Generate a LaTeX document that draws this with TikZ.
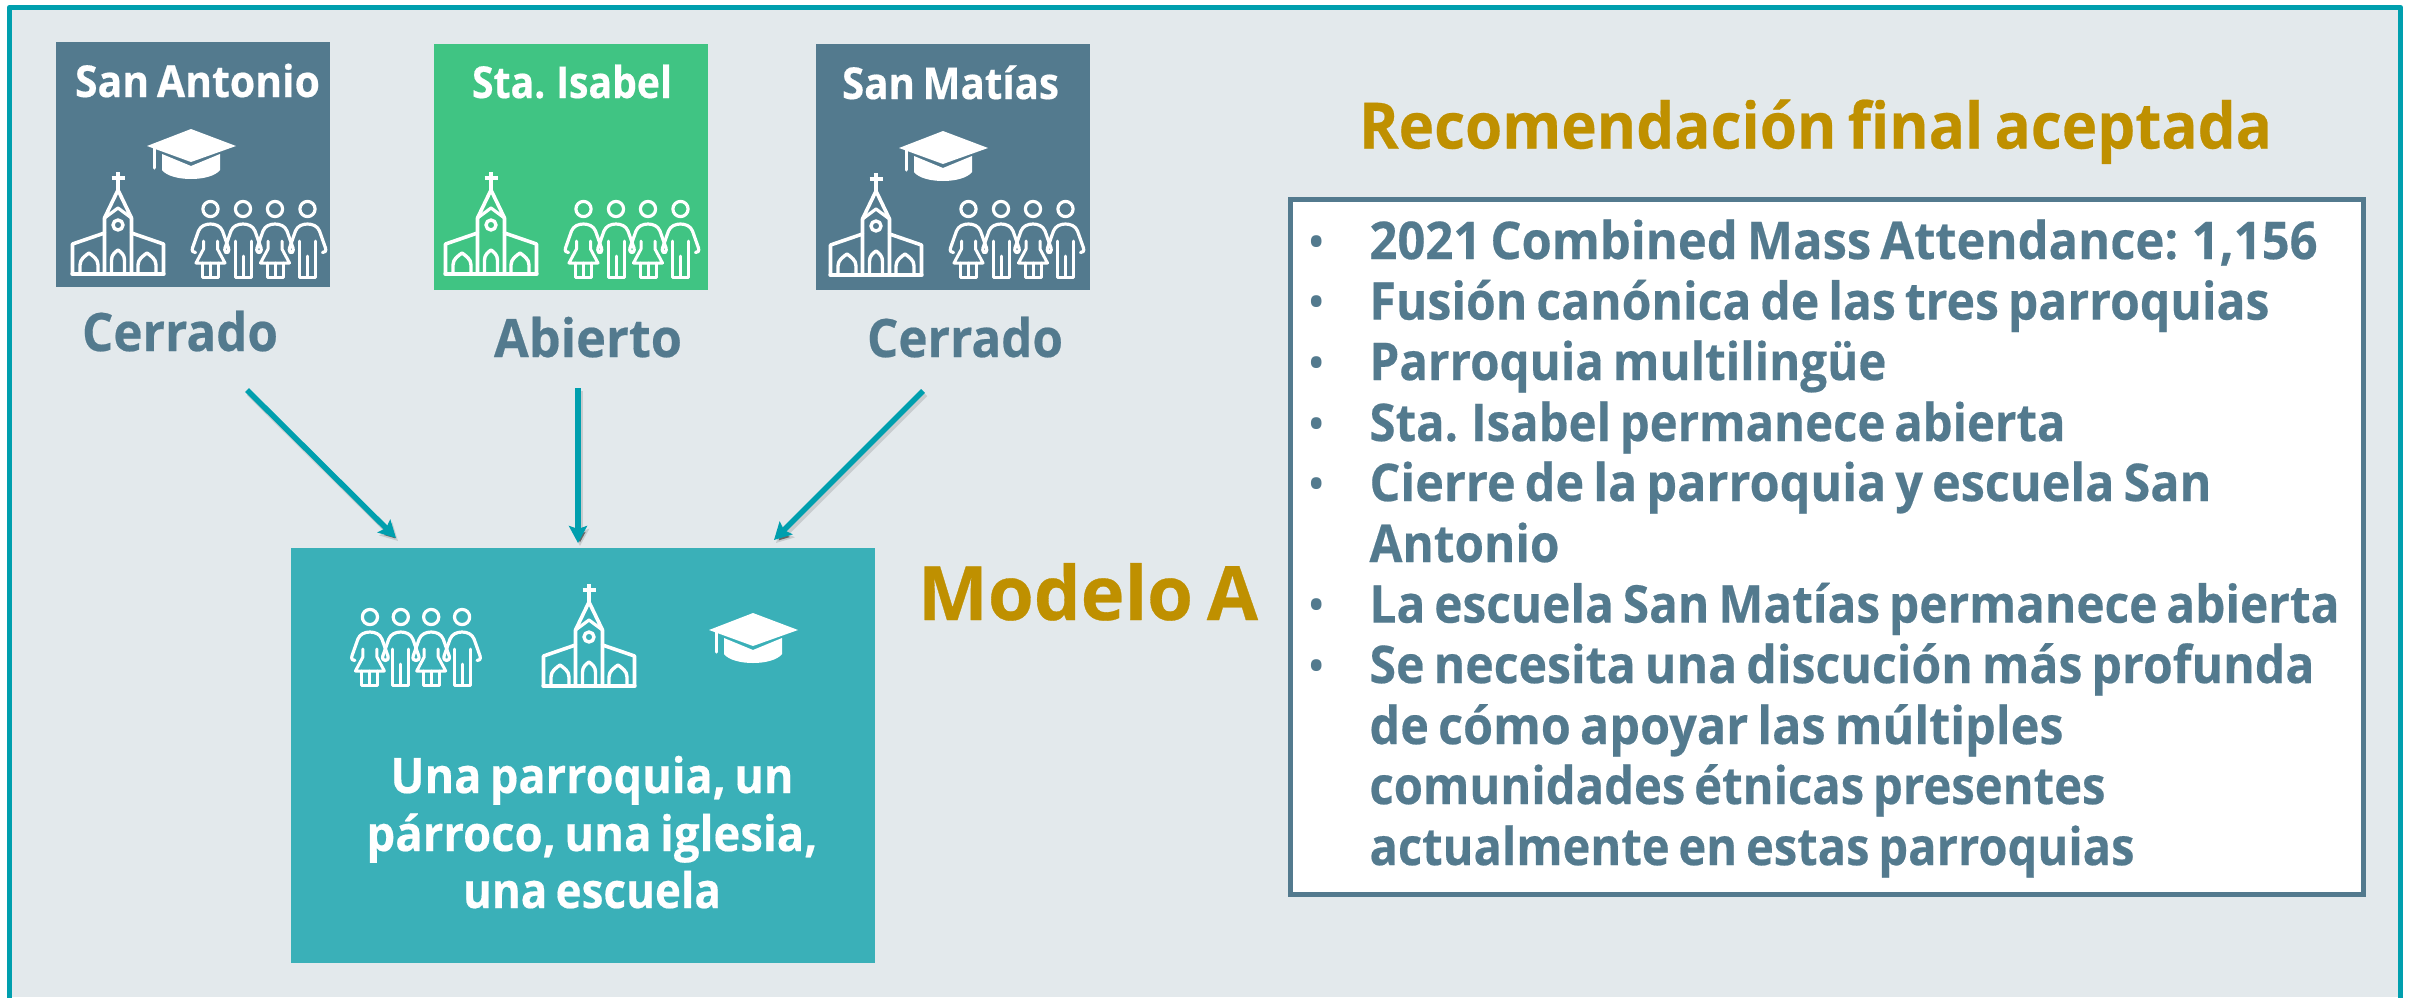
\documentclass[tikz,border=0pt]{standalone}
\usepackage{fontspec}
\usepackage{graphicx}
\setmainfont{Open Sans}[WordSpace=0.72,BoldFeatures={FakeBold=0.4}]
\usetikzlibrary{arrows.meta}
\definecolor{slate}{HTML}{537A8E}
\definecolor{mint}{HTML}{40C483}
\definecolor{tealbox}{HTML}{3AB0B8}
\definecolor{framec}{HTML}{009FAE}
\definecolor{panel}{HTML}{E3E9EC}
\definecolor{gold}{HTML}{BF9000}
\newcommand{\fitw}[3]{\resizebox{#1pt}{\height}{\fontsize{#2pt}{#2pt}\selectfont\bfseries #3}}
\tikzset{
  icon/.style={draw=white,line width=3.2pt,line join=round,line cap=round},
  flatbox/.style={anchor=north west,inner sep=0pt,outer sep=0pt,minimum width=#1},
  txt/.style={anchor=base west,inner sep=0pt,outer sep=0pt},
  ctxt/.style={anchor=base,inner sep=0pt,outer sep=0pt,white},
  flow/.style={draw=framec,line width=5.5pt,-{Stealth[length=17pt,width=18pt,inset=3pt]},
    preaction={draw=black!60,draw opacity=.22,line width=6pt,-{Stealth[length=17pt,width=18pt,inset=3pt]},transform canvas={shift={(2pt,-3pt)}}}},
  churchicon/.pic={
    \draw[icon,line width=3.6pt] (-13.5,0)--(-13.5,-56)--(0,-84)--(13.5,-56)--(13.5,0);
    \draw[icon,line width=3.2pt] (-13.5,-56)--(0,-66)--(13.5,-56);
    \draw[icon,line width=4pt,line cap=butt] (0,-102)--(0,-84) (-6.5,-96)--(6.5,-96);
    \draw[icon,line width=3.6pt] (-13.5,-41)--(-45.5,-30)--(-45.5,0)--(45.5,0)--(45.5,-30)--(13.5,-41);
    \draw[icon,line width=4.4pt] (-45.5,0)--(45.5,0);
    \draw[icon,line width=3.4pt] (-38,0)--(-38,-9) .. controls (-38,-15) and (-33,-18) .. (-29,-21) .. controls (-25,-18) and (-20,-15) .. (-20,-9)--(-20,0);
    \draw[icon,line width=3.4pt] (38,0)--(38,-9) .. controls (38,-15) and (33,-18) .. (29,-21) .. controls (25,-18) and (20,-15) .. (20,-9)--(20,0);
    \draw[icon,line width=3.4pt] (-6.5,0)--(-6.5,-14) .. controls (-6.5,-19) and (-3,-22) .. (0,-24) .. controls (3,-22) and (6.5,-19) .. (6.5,-14)--(6.5,0);
    \draw[icon,line width=3.4pt] (0,-49) circle (5);
  },
  capicon/.pic={
    \fill[white] (0,0)--(45,17)--(0,33)--(-44,17)--cycle;
    \fill[white] (-29,25)--(0,37)--(29,25)--(29,41) .. controls (20,53) and (-20,53) .. (-29,41)--cycle;
    \draw[icon,line width=3pt] (-37,18)--(-37,39);
  },
  armsicon/.pic={
    \draw[icon,fill=none] (-15,-24.5) .. controls (-17,-24) and (-19,-26) .. (-18,-29)
      -- (-12,-46) .. controls (-10,-51) and (-5,-53) .. (0,-53) .. controls (5,-53) and (10,-51) .. (12,-46)
      -- (18,-29) .. controls (19,-26) and (17,-24) .. (15,-24.5);
    \draw[icon] (0,-68) circle (7.6);
  },
  womanicon/.pic={
    \pic {armsicon};
    \draw[icon,line width=3pt] (-7,-36)--(-7,-28)--(-14.5,-14)--(14.5,-14)--(7,-28)--(7,-36);
    \draw[icon,line width=3pt] (-8,-14)--(-8,0)--(8,0)--(8,-14) (0,-14)--(0,0);
  },
  manicon/.pic={
    \pic {armsicon};
    \draw[icon,line width=3pt] (-8,-36)--(-8,0)--(8,0)--(8,-36) (0,-21)--(0,0);
  },
  peopleicon/.pic={
    \pic at (-48.5,0) {womanicon};
    \pic at (-16,0) {manicon};
    \pic at (16,0) {womanicon};
    \pic at (48.5,0) {manicon};
  }
}
\begin{document}
\begin{tikzpicture}[x=1pt,y=-1pt]
\useasboundingbox (0,0) rectangle (2410,997);
\fill[white] (0,0) rectangle (2410,997);
\fill[panel] (9.5,7.5) rectangle (2401,997);
\draw[framec,line width=5.5pt,line join=round] (9.5,1000)--(9.5,7.5)--(2400.5,7.5)--(2400.5,1000);

% parish boxes
\node[flatbox=274pt,minimum height=245pt,fill=slate] (sa) at (56,42) {};
\node[flatbox=274pt,minimum height=246pt,fill=mint] (si) at (434,44) {};
\node[flatbox=274pt,minimum height=246pt,fill=slate] (sm) at (816,44) {};
\node[flatbox=584pt,minimum height=415pt,fill=tealbox] (merged) at (291,548) {};

% box titles
\node[txt,white] (tsa) at (75,97) {\fitw{245}{44}{San Antonio}};
\node[txt,white] (tsi) at (472,98) {\fitw{200}{44}{Sta. Isabel}};
\node[txt,white] (tsm) at (842,99) {\fitw{217}{44}{San Matías}};

% status labels
\node[txt,slate] (l1) at (82,351) {\fitw{196}{53}{Cerrado}};
\node[txt,slate] (l2) at (494,357) {\fitw{188}{53}{Abierto}};
\node[txt,slate] (l3) at (867,357) {\fitw{196}{53}{Cerrado}};

% icons
\pic at (191,129) {capicon};
\pic at (118,274) {churchicon};
\pic at (259,277) {peopleicon};
\pic at (491,274) {churchicon};
\pic at (632,277) {peopleicon};
\pic at (943,131) {capicon};
\pic at (876,275) {churchicon};
\pic at (1017,277) {peopleicon};
\pic[scale=0.95] at (416,685) {peopleicon};
\pic at (589,686) {churchicon};
\pic at (753,613) {capicon};

% merged box text
\node[ctxt] (m1) at (592,793) {\fitw{403}{49}{Una parroquia, un}};
\node[ctxt] (m2) at (592,851) {\fitw{451}{49}{párroco, una iglesia,}};
\node[ctxt] (m3) at (592,908) {\fitw{258}{49}{una escuela}};

% arrows
\coordinate (a1s) at (247,390); \coordinate (a1e) at (396,538);
\coordinate (a2s) at (578,388); \coordinate (a2e) at (578,543);
\coordinate (a3s) at (923,391); \coordinate (a3e) at (774,540);
\draw[flow] (a1s)--(a1e);
\draw[flow] (a2s)--(a2e);
\draw[flow] (a3s)--(a3e);

% headings
\node[txt,gold] (rec) at (1359,148.5) {\fitw{913}{64}{Recomendación final aceptada}};
\node[txt,gold] (mod) at (918,620) {\fitw{340}{75}{Modelo A}};

% list box
\node[flatbox=1073.5pt,minimum height=694.5pt,fill=white,draw=slate,line width=5pt] (list) at (1290,199.5) {};
\node[txt,slate] (b1) at (1369.5,259) {\fitw{948}{52}{2021 Combined Mass Attendance: 1,156}};
\node[txt,slate] (b2) at (1369.5,319.6) {\fitw{900}{52}{Fusión canónica de las tres parroquias}};
\node[txt,slate] (b3) at (1369.5,380) {\fitw{517}{52}{Parroquia multilingüe}};
\node[txt,slate] (b4) at (1369.5,441) {\fitw{696}{52}{Sta. Isabel permanece abierta}};
\node[txt,slate] (b5) at (1369.5,501) {\fitw{842}{52}{Cierre de la parroquia y escuela San}};
\node[txt,slate] (b6) at (1369.5,562) {\fitw{190}{52}{Antonio}};
\node[txt,slate] (b7) at (1369.5,622.6) {\fitw{970}{52}{La escuela San Matías permanece abierta}};
\node[txt,slate] (b8) at (1369.5,683) {\fitw{945}{52}{Se necesita una discución más profunda}};
\node[txt,slate] (b9) at (1369.5,744) {\fitw{694}{52}{de cómo apoyar las múltiples}};
\node[txt,slate] (b10) at (1369.5,804) {\fitw{736}{52}{comunidades étnicas presentes}};
\node[txt,slate] (b11) at (1369.5,865) {\fitw{765}{52}{actualmente en estas parroquias}};
\foreach \by/\nm in {259/1,319.6/2,380/3,441/4,501/5,622.6/7,683/8}{
  \node[anchor=base,inner sep=0pt,slate,font=\fontsize{49pt}{49pt}\selectfont] (dot\nm) at (1317,\by) {•};
}
\end{tikzpicture}
\end{document}
